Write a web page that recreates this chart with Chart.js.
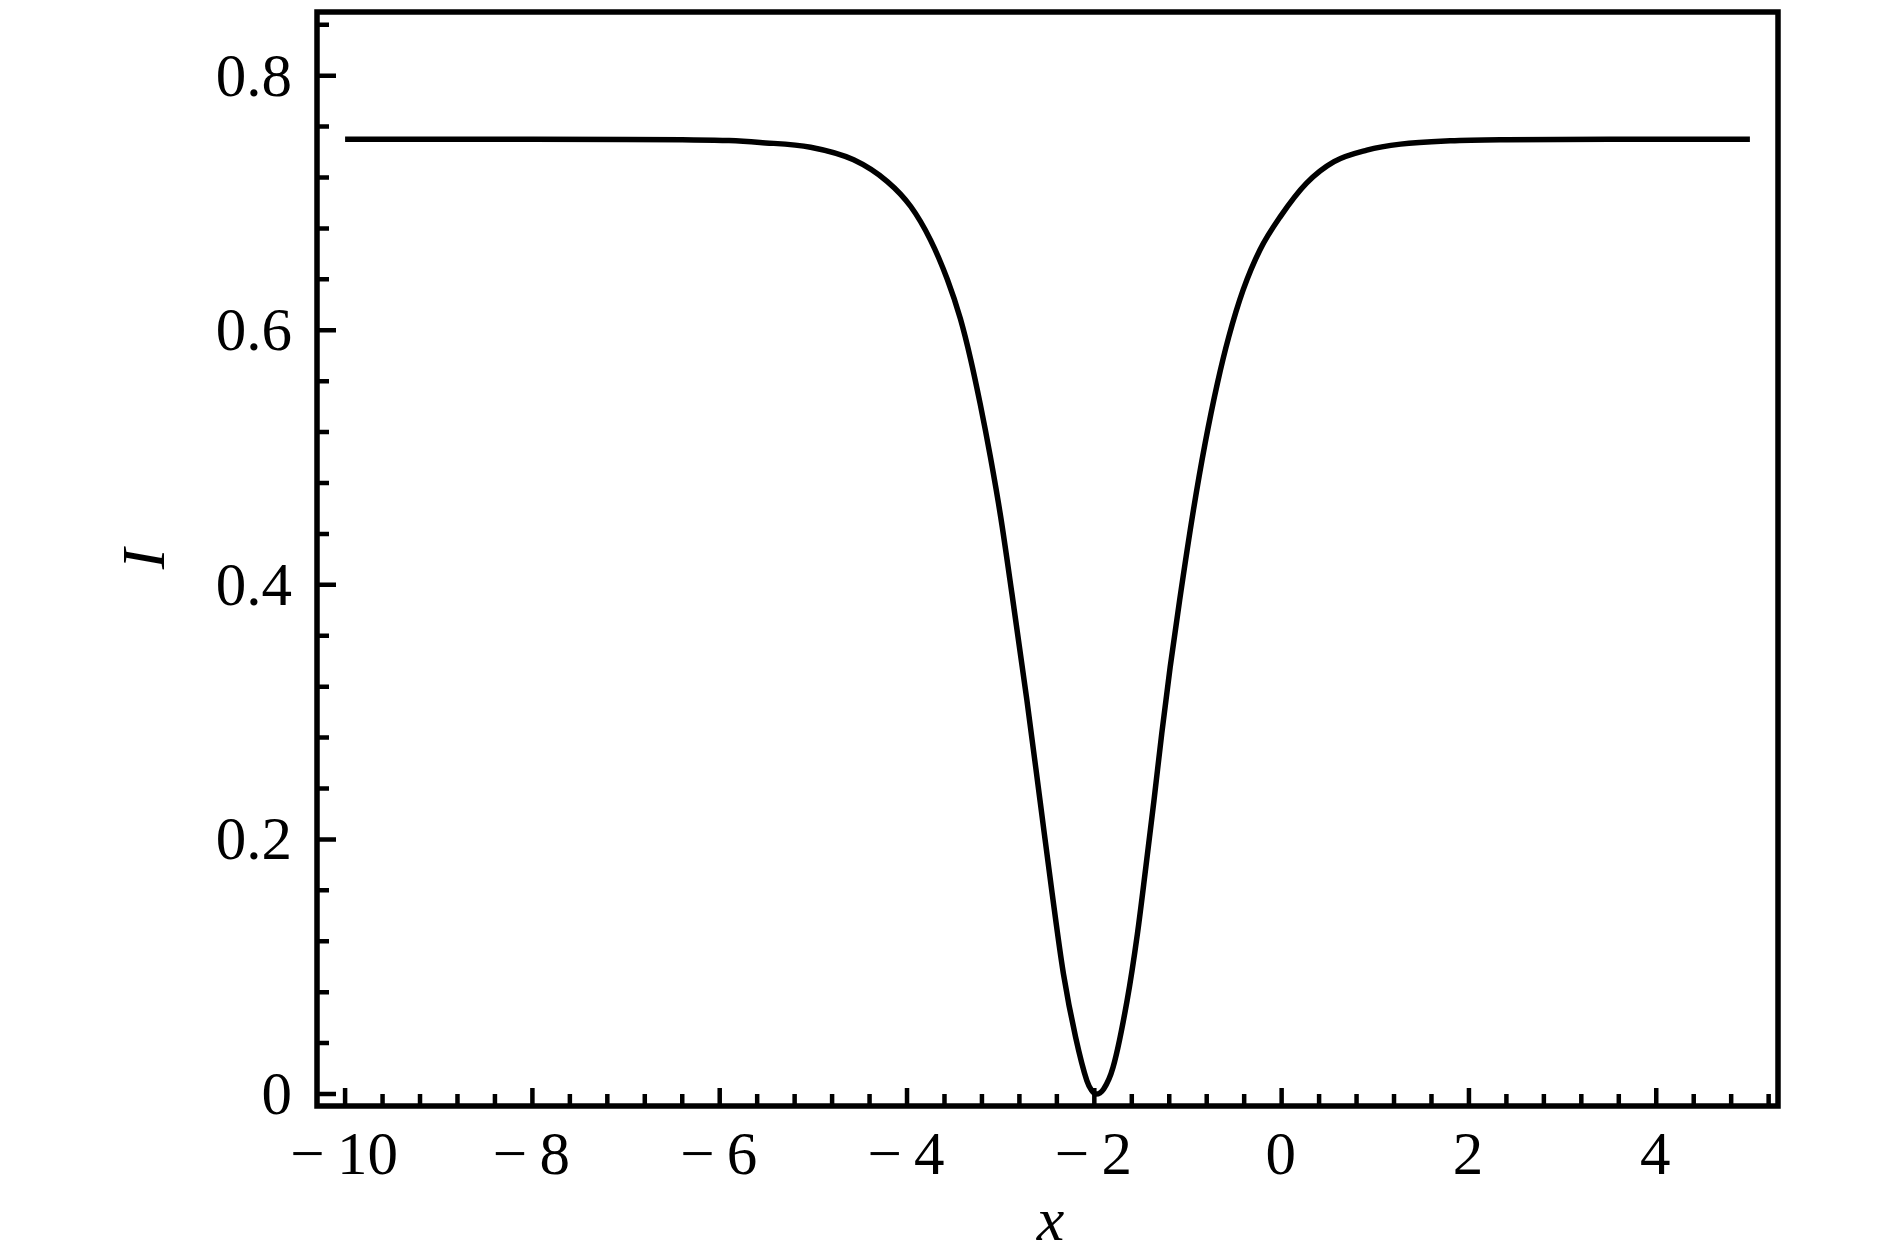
<!DOCTYPE html>
<html>
<head>
<meta charset="utf-8">
<script src="https://cdn.jsdelivr.net/npm/chart.js@4.4.1/dist/chart.umd.min.js"></script>
<style>
  html, body { margin: 0; padding: 0; background: #fff; }
  canvas { display: block; }
</style>
</head>
<body>
<canvas id="chart" width="1890" height="1252"></canvas>
<script>
// values
const xValues = [-10, -8, -7, -6.4, -5.9, -5.57, -5.03, -4.57, -4.21, -3.96, -3.75, -3.57, -3.43,
  -3.32, -3.22, -3.11, -3.0, -2.88, -2.72, -2.58, -2.45, -2.33, -2.2, -2.08, -2.03, -1.98,
  -1.9, -1.8, -1.65, -1.54, -1.45, -1.363, -1.28, -1.19, -1.089, -0.942, -0.817, -0.686, -0.564,
  -0.411, -0.232, -0.014, 0.266, 0.56, 0.91, 1.27, 1.8, 2.4, 3.5, 5];
const intensity = [0.75, 0.75, 0.7499, 0.7496, 0.749, 0.7475, 0.7438, 0.7339, 0.7168, 0.6972, 0.671, 0.640, 0.609,
  0.577, 0.5426, 0.5006, 0.4535, 0.3932, 0.3094, 0.2307, 0.1574, 0.0945, 0.0447, 0.0106, 0.003, 0.0,
  0.004, 0.021, 0.0735, 0.1259, 0.1783, 0.2307, 0.2832, 0.3355, 0.388, 0.4587, 0.5112, 0.5583, 0.595,
  0.6317, 0.6631, 0.6893, 0.7156, 0.7325, 0.7415, 0.7462, 0.7488, 0.7497, 0.75, 0.75];

const xTicks = [-10, -8, -6, -4, -2, 0, 2, 4];
const xTickLabels = ['\u2212\u200910', '\u2212\u20098', '\u2212\u20096', '\u2212\u20094', '\u2212\u20092', '0', '2', '4'];
const yTicks = [0, 0.2, 0.4, 0.6, 0.8];
const yTickLabels = ['0', '0.2', '0.4', '0.6', '0.8'];

const FONT = '"Liberation Serif", "DejaVu Serif", serif';

const framePlugin = {
  id: 'frame',
  afterDraw(chart) {
    const { ctx, chartArea: a, scales: { x, y } } = chart;
    ctx.save();
    ctx.strokeStyle = '#000';
    ctx.fillStyle = '#000';

    // inward ticks, bottom and left only
    ctx.lineWidth = 4.5;
    ctx.beginPath();
    for (let i = 0; i <= 38; i++) {
      const v = -10 + i * 0.4;
      const px = x.getPixelForValue(v);
      const len = (i % 5 === 0) ? 18 : 12;
      ctx.moveTo(px, a.bottom);
      ctx.lineTo(px, a.bottom - len);
    }
    for (let i = 0; i <= 21; i++) {
      const v = i * 0.04;
      const py = y.getPixelForValue(v);
      const len = (i % 5 === 0) ? 19 : 12;
      ctx.moveTo(a.left, py);
      ctx.lineTo(a.left + len, py);
    }
    ctx.stroke();

    // frame
    ctx.lineWidth = 5.5;
    ctx.strokeRect(a.left, a.top, a.right - a.left, a.bottom - a.top);

    // tick labels
    ctx.font = '61px ' + FONT;
    ctx.textAlign = 'center';
    ctx.textBaseline = 'alphabetic';
    xTicks.forEach((v, i) => {
      ctx.fillText(xTickLabels[i], x.getPixelForValue(v) - 1, a.bottom + 68);
    });
    ctx.textAlign = 'right';
    yTicks.forEach((v, i) => {
      ctx.fillText(yTickLabels[i], a.left - 25, y.getPixelForValue(v) + 20);
    });

    // axis titles
    ctx.font = 'italic 62px ' + FONT;
    ctx.textAlign = 'center';
    ctx.fillText('x', (a.left + a.right) / 2 + 3, 1240);
    ctx.save();
    ctx.translate(144, (a.top + a.bottom) / 2);
    ctx.rotate(-Math.PI / 2);
    ctx.fillText('I', 0, 20);
    ctx.restore();

    ctx.restore();
  }
};

new Chart(document.getElementById('chart'), {
  type: 'line',
  data: {
    datasets: [{
      data: xValues.map((v, i) => ({ x: v, y: intensity[i] })),
      borderColor: '#000',
      borderWidth: 5.5,
      pointRadius: 0,
      fill: false,
      cubicInterpolationMode: 'monotone'
    }]
  },
  options: {
    responsive: false,
    animation: false,
    layout: { padding: { left: 317, right: 112, top: 12, bottom: 146 } },
    plugins: { legend: { display: false }, tooltip: { enabled: false } },
    scales: {
      x: { type: 'linear', min: -10.3, max: 5.3, display: false },
      y: { type: 'linear', min: -0.0094, max: 0.85, display: false }
    }
  },
  plugins: [framePlugin]
});
</script>
</body>
</html>
